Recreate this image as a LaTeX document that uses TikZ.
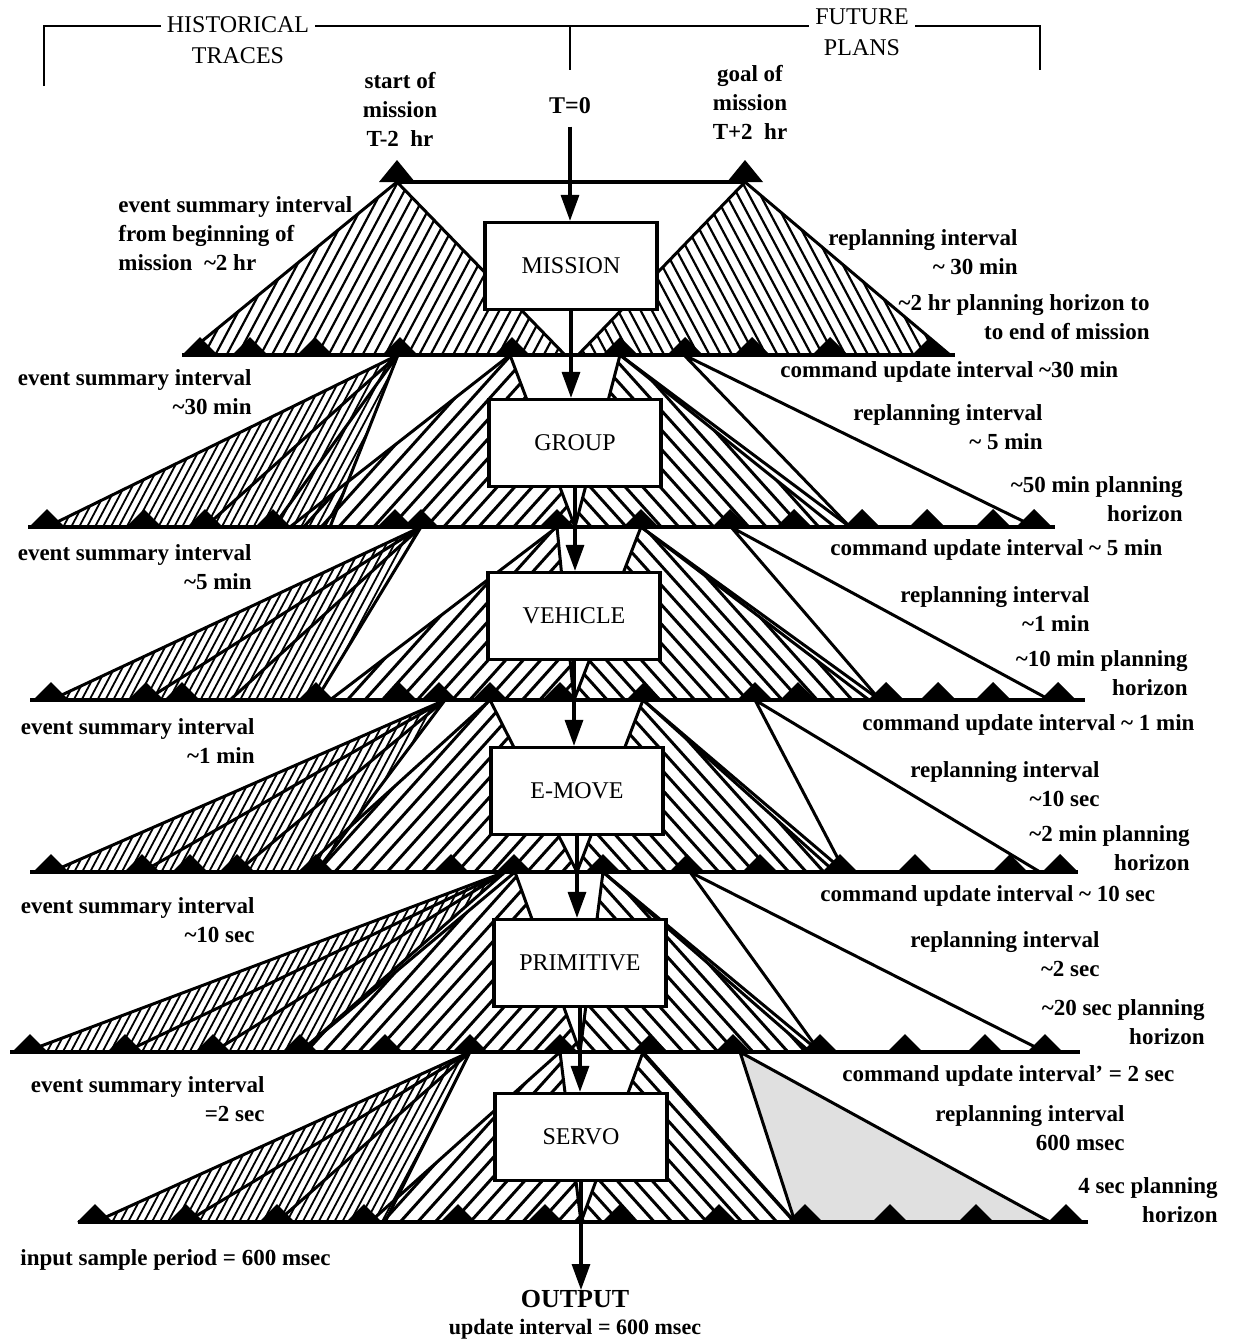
\documentclass[tikz,border=0pt]{standalone}
\usepackage{fontspec}
\setmainfont{Liberation Serif}
\usetikzlibrary{arrows.meta}

\newcommand\apx{\textasciitilde}

% Hatched fan: #1 closed path, #2 hatch angle, #3 spacing, #4 stroke width, (#5,#6) centre
\newcommand\hatchfan[6]{%
  \begin{scope}
    \clip #1;
    \foreach \k in {-45,...,45}
      \draw[line width=#4]
        ({#5+\k*#3*sin(#2)-600*cos(#2)},{#6+\k*#3*cos(#2)+600*sin(#2)}) --
        ({#5+\k*#3*sin(#2)+600*cos(#2)},{#6+\k*#3*cos(#2)-600*sin(#2)});
  \end{scope}
  \draw[fanedge] #1;
}

\tikzset{
  fanedge/.style={line width=1.5pt, line join=round},
  stipple/.style={fanedge, fill=black!12},
  ray/.style={line width=1.5pt},
  axisline/.style={line width=2pt},
  spike/.style={fill=black},
  unit/.style={draw, line width=1.6pt, fill=white, minimum width=86pt,
    minimum height=43.5pt, inner sep=0pt, font=\fontsize{12}{14}\selectfont},
  lab/.style={inner sep=0pt, font=\fontsize{11.5}{14.5}\selectfont\bfseries},
  hdr/.style={inner sep=0pt, font=\fontsize{12}{15.5}\selectfont, align=center},
  flow/.style={line width=1.6pt, -{Triangle[width=9pt,length=13pt]}},
  bracket/.style={line width=1.2pt},
}

\begin{document}
\begin{tikzpicture}[x=0.5pt,y=-0.5pt]
\useasboundingbox (0,0) rectangle (1232,1339);
\fill[white] (0,0) rectangle (1232,1339);

% ---------- mission level: history and plan triangles ----------
\hatchfan{(397,182) -- (185,355) -- (565,355) -- cycle}{62}{10}{1.1pt}{382}{297}
\hatchfan{(745,182) -- (578,355) -- (950,355) -- cycle}{118}{10}{1.1pt}{758}{297}

% ---------- group level ----------
\hatchfan{(398,355) -- (47,527) -- (330,527) -- cycle}{62}{7}{0.9pt}{260}{470}
\draw[ray] (398,355) -- (205,527) (398,355) -- (273,527);
\hatchfan{(510,355) -- (290,527) -- (575,527) -- cycle}{48}{13}{1.5pt}{460}{470}
\hatchfan{(620,355) -- (575,527) -- (835,527) -- cycle}{132}{13}{1.5pt}{680}{470}
\draw[ray] (620,355) -- (850,527);
\draw[ray] (684,355) -- (850,527) (684,355) -- (1035,527);

% ---------- vehicle level ----------
\hatchfan{(421,527) -- (51,700) -- (316,700) -- cycle}{62}{7}{0.9pt}{263}{642}
\draw[ray] (421,527) -- (146,700) (421,527) -- (230,700);
\hatchfan{(557,527) -- (330,700) -- (574,700) -- cycle}{48}{13}{1.5pt}{487}{642}
\hatchfan{(641,527) -- (574,700) -- (869,700) -- cycle}{132}{13}{1.5pt}{695}{642}
\draw[ray] (641,527) -- (880,700);
\draw[ray] (731,527) -- (880,700) (731,527) -- (1050,700);

% ---------- e-move level ----------
\hatchfan{(445,700) -- (51,872) -- (316,872) -- cycle}{62}{7}{0.9pt}{271}{815}
\draw[ray] (445,700) -- (142,872) (445,700) -- (237,872);
\hatchfan{(490,700) -- (300,872) -- (577,872) -- cycle}{48}{13}{1.5pt}{456}{815}
\hatchfan{(643,700) -- (577,872) -- (835,872) -- cycle}{132}{13}{1.5pt}{685}{815}
\draw[ray] (643,700) -- (845,872);
\draw[ray] (755,700) -- (845,872) (755,700) -- (1040,872);

% ---------- primitive level ----------
\hatchfan{(505,872) -- (25,1052) -- (300,1052) -- cycle}{62}{7}{0.9pt}{277}{992}
\draw[ray] (505,872) -- (125,1052) (505,872) -- (213,1052);
\hatchfan{(515,872) -- (300,1052) -- (580,1052) -- cycle}{48}{13}{1.5pt}{465}{992}
\hatchfan{(603,872) -- (580,1052) -- (810,1052) -- cycle}{132}{13}{1.5pt}{664}{992}
\draw[ray] (603,872) -- (820,1052);
\draw[ray] (690,872) -- (820,1052) (690,872) -- (1045,1052);

% ---------- servo level ----------
\hatchfan{(470,1052) -- (95,1222) -- (385,1222) -- cycle}{62}{7}{0.9pt}{317}{1165}
\draw[ray] (470,1052) -- (186,1222) (470,1052) -- (277,1222);
\hatchfan{(560,1052) -- (370,1222) -- (581,1222) -- cycle}{48}{13}{1.5pt}{504}{1165}
\hatchfan{(643,1052) -- (581,1222) -- (795,1222) -- cycle}{132}{13}{1.5pt}{673}{1165}
\draw[stipple] (740,1052) -- (795,1222) -- (1050,1222) -- cycle;

% ---------- time lines with sample marks ----------
\draw[axisline] (397,182) -- (745,182);
\foreach \x in {397,745}
  \fill[spike] (\x-18,182) -- (\x,160) -- (\x+18,182) -- cycle;

\draw[axisline] (182,355) -- (955,355);
\foreach \x in {200,250,315,400,512,620,685,752,830,930}
  \fill[spike] (\x-18,355) -- (\x,337) -- (\x+18,355) -- cycle;

\draw[axisline] (28,527) -- (1055,527);
\foreach \x in {47,144,205,273,395,421,557,641,730,794,862,927,993,1034}
  \fill[spike] (\x-18,527) -- (\x,509) -- (\x+18,527) -- cycle;

\draw[axisline] (30,700) -- (1085,700);
\foreach \x in {51,146,182,316,399,439,490,560,644,755,798,886,938,993,1058}
  \fill[spike] (\x-18,700) -- (\x,682) -- (\x+18,700) -- cycle;

\draw[axisline] (30,872) -- (1078,872);
\foreach \x in {51,142,190,237,316,451,514,603,687,760,840,915,1010,1060}
  \fill[spike] (\x-18,872) -- (\x,854) -- (\x+18,872) -- cycle;

\draw[axisline] (10,1052) -- (1080,1052);
\foreach \x in {30,125,213,300,385,470,560,650,733,820,905,985,1045}
  \fill[spike] (\x-18,1052) -- (\x,1034) -- (\x+18,1052) -- cycle;

\draw[axisline] (78,1222) -- (1088,1222);
\foreach \x in {95,186,277,364,458,545,620,719,805,890,976,1066}
  \fill[spike] (\x-18,1222) -- (\x,1204) -- (\x+18,1222) -- cycle;

% ---------- hierarchy of modules ----------
\node[unit] (mission)   at (571,266)  {MISSION};
\node[unit] (group)     at (575,443)  {GROUP};
\node[unit] (vehicle)   at (574,616)  {VEHICLE};
\node[unit] (emove)     at (577,791)  {E-MOVE};
\node[unit] (primitive) at (580,963)  {PRIMITIVE};
\node[unit] (servo)     at (581,1137) {SERVO};

% ---------- top bracket ----------
\coordinate (bl) at (44,26);
\coordinate (br) at (1040,26);
\coordinate (bm) at (570,26);
\draw[bracket] (44,86) -- (bl) -- (br) -- (1040,70);
\draw[bracket] (bm) -- (570,70);
\node[hdr, fill=white, inner sep=3pt] (hist) at (238,40) {HISTORICAL\\TRACES};
\node[hdr, fill=white, inner sep=3pt] (future) at (862,32) {FUTURE\\PLANS};

\node[lab, align=center, anchor=north] (start) at (400,72) {start of\\mission\\T-2\ \ hr};
\node[lab, align=center, anchor=north] (goal) at (750,65) {goal of\\mission\\T+2\ \ hr};
\node[lab, font=\fontsize{12}{14}\selectfont\bfseries] (t0) at (570,106) {T=0};

% ---------- command flow ----------
\draw[flow] ([yshift=-6pt]t0.south) -- (t0.south |- mission.north);
\draw[flow] (mission.south) -- (mission.south |- group.north);
\draw[flow] (group.south) -- (group.south |- vehicle.north);
\draw[flow] (vehicle.south) -- (vehicle.south |- emove.north);
\draw[flow] (emove.south) -- (emove.south |- primitive.north);
\draw[flow] (primitive.south) -- (primitive.south |- servo.north);

\node[lab, align=center, anchor=north] (output) at (575,1290)
  {{\fontsize{13}{14}\selectfont OUTPUT}\\[-1pt]{\fontsize{11}{12}\selectfont update interval = 600 msec}};
\draw[flow] (servo.south) -- (servo.south |- output.north);

% ---------- history labels ----------
\node[lab, anchor=north west, align=left] (hM) at (118,196)
  {event summary interval\\from beginning of\\mission\ \ \apx2 hr};
\node[lab, anchor=north east, align=right] (hG) at (252,369) {event summary interval\\\apx30 min};
\node[lab, anchor=north east, align=right] (hV) at (252,544) {event summary interval\\\apx5 min};
\node[lab, anchor=north east, align=right] (hE) at (255,718) {event summary interval\\\apx1 min};
\node[lab, anchor=north east, align=right] (hP) at (255,897) {event summary interval\\\apx10 sec};
\node[lab, anchor=north east, align=right] (hS) at (265,1076) {event summary interval\\=2 sec};
\node[lab, anchor=north west] (input) at (20,1249) {input sample period = 600 msec};

% ---------- plan labels ----------
\node[lab, anchor=north east, align=right] (rM) at (1018,229) {replanning interval\\\apx\ 30 min};
\node[lab, anchor=north east, align=right] (pM) at (1150,294) {\apx2 hr planning horizon to\\to end of mission};
\node[lab, anchor=north west] (cG) at (780,361) {command update interval \apx30 min};
\node[lab, anchor=north east, align=right] (rG) at (1043,404) {replanning interval\\\apx\ 5 min};
\node[lab, anchor=north east, align=right] (pG) at (1183,476) {\apx50 min planning\\horizon};
\node[lab, anchor=north west] (cV) at (830,539) {command update interval \apx\ 5 min};
\node[lab, anchor=north east, align=right] (rV) at (1090,586) {replanning interval\\\apx1 min};
\node[lab, anchor=north east, align=right] (pV) at (1188,650) {\apx10 min planning\\horizon};
\node[lab, anchor=north west] (cE) at (862,714) {command update interval \apx\ 1 min};
\node[lab, anchor=north east, align=right] (rE) at (1100,761) {replanning interval\\\apx10 sec};
\node[lab, anchor=north east, align=right] (pE) at (1190,825) {\apx2 min planning\\horizon};
\node[lab, anchor=north west] (cP) at (820,885) {command update interval \apx\ 10 sec};
\node[lab, anchor=north east, align=right] (rP) at (1100,931) {replanning interval\\\apx2 sec};
\node[lab, anchor=north east, align=right] (pP) at (1205,999) {\apx20 sec planning\\horizon};
\node[lab, anchor=north west] (cS) at (842,1065) {command update interval' = 2 sec};
\node[lab, anchor=north east, align=right] (rS) at (1125,1105) {replanning interval\\600 msec};
\node[lab, anchor=north east, align=right] (pS) at (1218,1177) {4 sec planning\\horizon};
\end{tikzpicture}
\end{document}
